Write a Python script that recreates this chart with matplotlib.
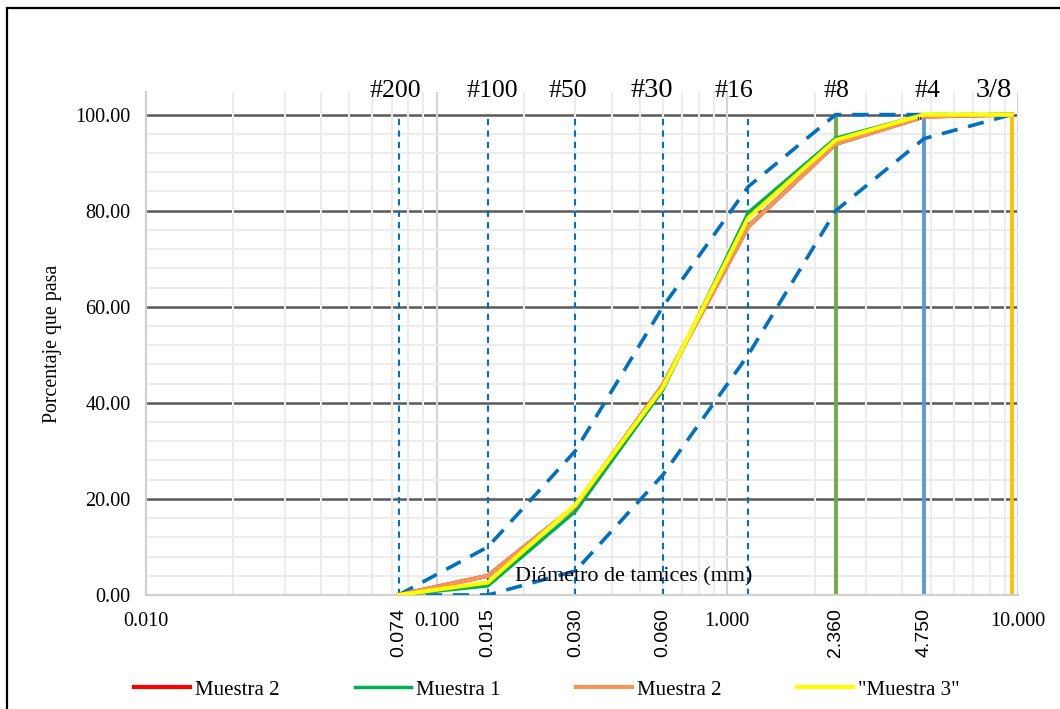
import numpy as np
import matplotlib
matplotlib.use("Agg")
import matplotlib.pyplot as plt
from matplotlib.patches import Rectangle
from matplotlib.ticker import FixedLocator, NullFormatter

# ============================================================
# DATOS
# ============================================================
tamices = [0.074, 0.15, 0.30, 0.60, 1.18, 2.36, 4.75, 9.50]
nombres_tamiz = ["#200", "#100", "#50", "#30", "#16", "#8", "#4", "3/8"]

lim_sup = [0, 10, 30, 60, 85, 100, 100, 100]
lim_inf = [0, 0, 5, 25, 50, 80, 95, 100]

muestra_2_rojo = [0, 4.0, 18.5, 43.7, 76.7, 93.9, 99.6, 100]
muestra_1 = [0, 1.9, 17.4, 42.7, 79.6, 95.1, 100, 100]
muestra_2 = [0, 4.0, 18.5, 43.7, 76.7, 93.9, 99.6, 100]
muestra_3 = [0, 2.6, 18.8, 43.2, 78.5, 94.7, 100, 100]

etiquetas_rot = ["0.074", "0.015", "0.030", "0.060", "2.360", "4.750"]
pos_rot = [0.074, 0.15, 0.30, 0.60, 2.36, 4.75]

# desplazamiento horizontal (px) de los nombres de tamiz respecto a su linea
DESPL_PX = [-3, 4, -8, -11, -14, 1, 3, -18]

SERIF = ["Liberation Serif", "DejaVu Serif"]
SANS = ["Liberation Sans", "DejaVu Sans"]
plt.rcParams["font.family"] = SERIF

# ============================================================
# FIGURA
# ============================================================
fig = plt.figure(figsize=(10.6, 7.09), dpi=100)
ax = fig.add_axes([0.1377, 0.1608, 0.9604 - 0.1377, 0.8702 - 0.1608])

ax.set_xscale("log")
ax.set_xlim(0.01, 10)
ax.set_ylim(0, 104.7)

# rejilla
ax.xaxis.set_major_locator(FixedLocator([0.01, 0.1, 1, 10]))
minx = [m * d for d in [0.01, 0.1, 1] for m in range(2, 10)]
ax.xaxis.set_minor_locator(FixedLocator(minx))
ax.xaxis.set_minor_formatter(NullFormatter())
ax.set_yticks([0, 20, 40, 60, 80, 100])
ax.set_yticks([v for v in range(0, 101, 4) if v % 20 != 0], minor=True)

ax.grid(True, which="minor", axis="both", color="#ececec", lw=1.5, zorder=0)
ax.grid(True, which="major", axis="x", color="#d4d4d4", lw=1.5, zorder=0)
for yv in [20, 40, 60, 80, 100]:
    ax.axhline(yv, color="#595959", lw=1.8, zorder=1)

for s in ["top", "right"]:
    ax.spines[s].set_visible(False)
for s in ["left", "bottom"]:
    ax.spines[s].set_color("#d0d0d0")
    ax.spines[s].set_linewidth(1.5)
ax.tick_params(which="both", length=0)
ax.tick_params(axis="y", labelsize=14.5, pad=11)
ax.set_yticklabels(["%.2f" % v for v in [0, 20, 40, 60, 80, 100]])
ax.set_xticklabels(["0.010", "0.100", "1.000", "10.000"], fontsize=14.5)
ax.tick_params(axis="x", pad=12)

# lineas verticales de tamices
for t in tamices[:5]:
    ax.plot([t, t], [0, 100], color="#0070c0", lw=1.5, ls=(0, (3, 2.5)), zorder=2)
ax.plot([2.36, 2.36], [0, 100], color="#70ad47", lw=2.8, zorder=2)
ax.plot([4.75, 4.75], [0, 100], color="#5b9bd5", lw=2.8, zorder=2)
ax.plot([9.5, 9.5], [0, 100], color="#ffc000", lw=2.8, zorder=2)

# limites
ax.plot(tamices, lim_sup, color="#0070c0", lw=2.6, ls=(0, (4.5, 3)), zorder=3)
ax.plot(tamices, lim_inf, color="#0070c0", lw=2.6, ls=(0, (4.5, 3)), zorder=3)

# muestras
ax.plot(tamices, muestra_2_rojo, color="#ff0000", lw=3, label="Muestra 2", zorder=4)
ax.plot(tamices, muestra_1, color="#00b050", lw=2.5, label="Muestra 1", zorder=4)
ax.plot(tamices, muestra_2, color="#f4965c", lw=3, label="Muestra 2", zorder=4)
ax.plot(tamices, muestra_3, color="#ffff00", lw=3, label='"Muestra 3"', zorder=5)

# etiquetas de tamices arriba
for t, n, dx in zip(tamices, nombres_tamiz, DESPL_PX):
    fs = 20.5 if n in ["#30", "3/8"] else 18.5
    ax.annotate(n, xy=(t, 103.6), xytext=(dx * 0.72, 0), textcoords="offset points",
                ha="center", va="baseline", fontsize=fs, family=SERIF,
                annotation_clip=False, zorder=6)
ax.text(4.55, 98.5, '"', ha="center", va="center", fontsize=9, zorder=6)

# etiquetas giradas
tr = ax.get_xaxis_transform()
for p, e in zip(pos_rot, etiquetas_rot):
    ax.text(p, -0.026, e, transform=tr, rotation=90, ha="center", va="top",
            fontsize=14, family=SANS)

ax.text(0.186, 3.8, "Diámetro de tamices (mm)", ha="left", va="center",
        fontsize=15.9, zorder=6)
ax.set_ylabel("Porcentaje que pasa", fontsize=14.3, labelpad=9.5)

fig.legend(loc="center", bbox_to_anchor=(0.516, 0.027), ncol=4, frameon=False,
           fontsize=15, handlelength=2.7, handletextpad=0.25, columnspacing=3.6)

# marco de la figura
fig.patches.append(Rectangle((7 / 1060, -0.05), 1.2, 1 - 8 / 709 + 0.05,
                             transform=fig.transFigure, fill=False,
                             edgecolor="black", lw=1.6))

fig.savefig("out.png", dpi=100)
